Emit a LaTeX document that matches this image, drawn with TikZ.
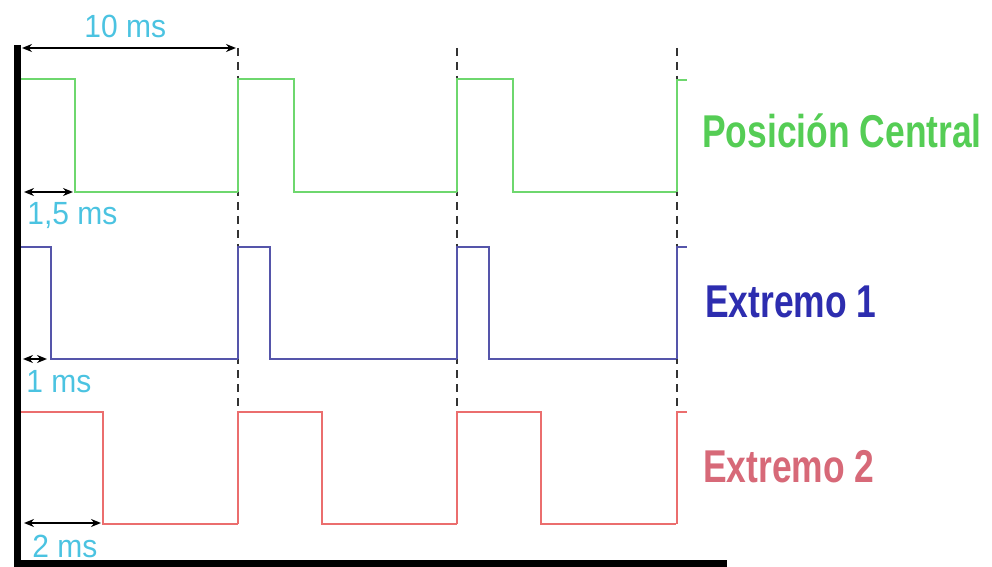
\documentclass[tikz,border=0pt]{standalone}
\usepackage{fontspec}
\setmainfont{Liberation Sans}
\usepackage{tikz}
\usetikzlibrary{arrows.meta}
\definecolor{sigverde}{RGB}{110,215,110}
\definecolor{sigazul}{RGB}{85,85,170}
\definecolor{sigrojo}{RGB}{235,110,110}
\definecolor{txtverde}{RGB}{85,205,85}
\definecolor{txtazul}{RGB}{45,45,175}
\definecolor{txtrojo}{RGB}{215,105,120}
\definecolor{txtms}{RGB}{75,195,225}

\begin{document}
\begin{tikzpicture}[x=0.5pt, y=-0.5pt,
    sig/.style={line width=1pt},
    cota/.style={{Stealth[length=5pt,width=4pt]}-{Stealth[length=5pt,width=4pt]}, line width=0.8pt},
    ms/.style={anchor=base west, text=txtms, font=\fontsize{15}{15}\selectfont, yscale=1.07, inner sep=0pt},
    nombre/.style={anchor=base west, font=\fontsize{23}{23}\selectfont\bfseries, xscale=0.77, inner sep=0pt}]
    \useasboundingbox (0,0) rectangle (992,567);

    % marcas de periodo
    \foreach \x in {238,457,677}
        \draw[dashed, dash pattern=on 4pt off 3pt, line width=0.7pt, black!80] (\x,48) -- (\x,412);

    % senales
    \foreach \s in {19,238,457} {
        \draw[sig, sigverde] (\s,192) -- (\s,79) -- ++(56,0) |- (\s+219,192);
        \draw[sig, sigazul] (\s,359) -- (\s,247) -- ++(32,0) |- (\s+219,359);
        \draw[sig, sigrojo] (\s,524) -- (\s,412) -- ++(84,0) |- (\s+219,524);
    }
    \draw[sig, sigverde] (677,192) -- (677,80) -- (687,80);
    \draw[sig, sigazul] (677,359) -- (677,247) -- (687,247);
    \draw[sig, sigrojo] (677,524) -- (677,412) -- (687,412);

    % ejes
    \coordinate (ejetop) at (17,45);
    \coordinate (ejeorg) at (17,563.5);
    \coordinate (ejefin) at (727,563.5);
    \draw[line width=3.5pt] (ejetop) -- (ejeorg) -- (ejefin);

    % cotas
    \coordinate (c10a) at (22,48);
    \coordinate (c10b) at (236,48);
    \coordinate (c15a) at (24,192);
    \coordinate (c15b) at (73,192);
    \coordinate (c1a) at (23,359);
    \coordinate (c1b) at (47,359);
    \coordinate (c2a) at (24,523);
    \coordinate (c2b) at (101,523);
    \draw[cota] (c10a) -- (c10b);
    \draw[cota] (c15a) -- (c15b);
    \draw[cota] (c1a) -- (c1b);
    \draw[cota] (c2a) -- (c2b);

    \node[ms] (t10) at (84,38) {10 ms};
    \node[ms] (t15) at (27,225) {1,5 ms};
    \node[ms] (t1) at (26,393) {1 ms};
    \node[ms] (t2) at (32,557) {2 ms};

    \node[nombre, text=txtverde] (central) at (702,148) {Posición Central};
    \node[nombre, text=txtazul] (ext1) at (705,317) {Extremo 1};
    \node[nombre, text=txtrojo] (ext2) at (703,482) {Extremo 2};
\end{tikzpicture}
\end{document}
